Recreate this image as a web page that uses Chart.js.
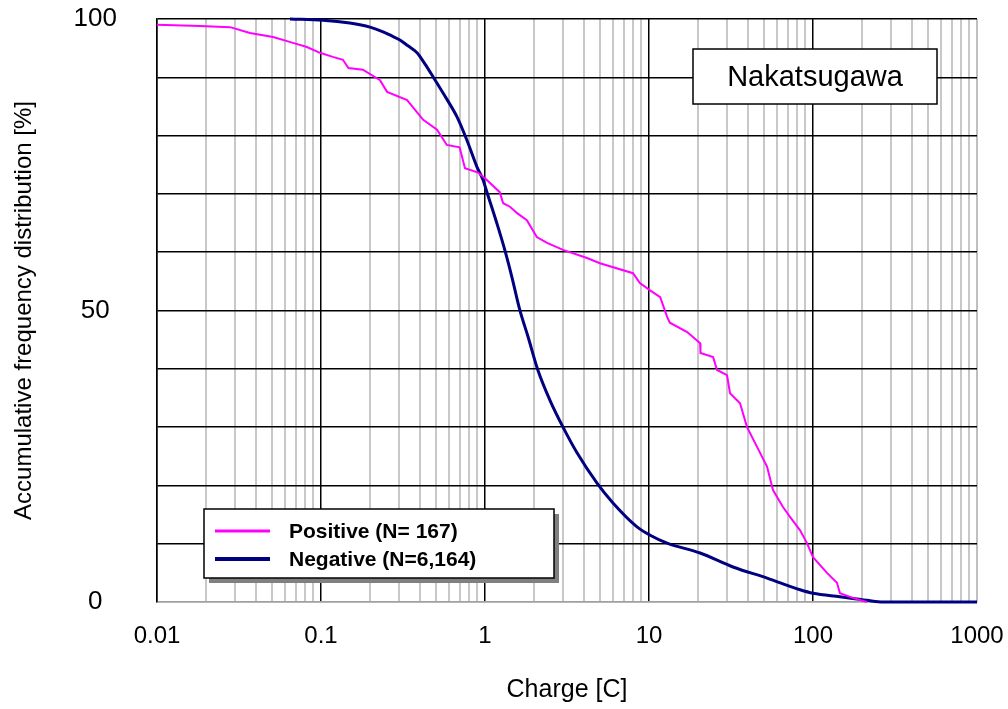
<!DOCTYPE html>
<html>
<head>
<meta charset="utf-8">
<script src="https://cdn.jsdelivr.net/npm/chart.js@4/dist/chart.umd.min.js"></script>
<style>
html,body{margin:0;padding:0;background:#fff;}
#wrap{width:1008px;height:709px;}
</style>
</head>
<body>
<div id="wrap"><canvas id="c" width="1008" height="709"></canvas></div>
<script>
// Positive flashes (charge [C], accumulative %)
const posCharge = [0.01, 0.0183, 0.0279, 0.0369, 0.051, 0.0675, 0.082, 0.0986, 0.118, 0.136, 0.147, 0.18, 0.229, 0.253, 0.335, 0.42, 0.51, 0.585, 0.70, 0.755, 0.9, 1.0, 1.23, 1.29, 1.42, 1.57, 1.80, 2.07, 2.39, 2.99, 4.19, 5.02, 7.99, 8.8, 10.1, 11.7, 12.9, 13.4, 17.1, 20.5, 20.6, 24.6, 26.0, 29.9, 31.2, 35.9, 39.6, 45.6, 52.5, 57.0, 65.6, 72.4, 83.4, 91.9, 100, 121.7, 140, 146, 175, 213];
const posPct    = [99.0, 98.8, 98.6, 97.6, 96.9, 95.9, 95.2, 94.2, 93.5, 93.0, 91.6, 91.3, 89.5, 87.5, 86.1, 82.7, 81.0, 78.4, 78.0, 74.4, 73.7, 72.7, 70.3, 68.4, 67.8, 66.7, 65.5, 62.6, 61.6, 60.4, 59.0, 58.1, 56.4, 54.7, 53.5, 52.3, 48.9, 47.9, 46.3, 44.4, 42.7, 42.0, 39.8, 38.9, 35.8, 34.1, 30.0, 26.6, 23.2, 19.2, 16.3, 14.6, 12.3, 10.1, 7.7, 5.0, 3.3, 1.5, 0.7, 0.0];

// Negative flashes
const negCharge = [0.0647, 0.103, 0.150, 0.199, 0.239, 0.27, 0.303, 0.339, 0.385, 0.43, 0.482, 0.555, 0.675, 0.776, 0.894, 0.973, 1.03, 1.18, 1.32, 1.46, 1.63, 1.83, 2.10, 2.49, 2.99, 3.64, 4.82, 6.03, 8.45, 10.1, 12.9, 20.5, 32.5, 52.5, 83.4, 100, 146, 213, 267, 1000];
const negPct    = [100, 99.8, 99.3, 98.6, 97.8, 97.1, 96.4, 95.4, 94.2, 92.3, 90.1, 87.3, 83.2, 79.2, 74.6, 72.4, 70.2, 65.0, 60.4, 55.7, 50.1, 45.5, 39.8, 34.6, 30.0, 25.6, 20.4, 17.0, 12.9, 11.5, 10.1, 8.4, 6.0, 4.1, 2.1, 1.5, 0.9, 0.3, 0.0, 0.0];

const seriesLabels = ['Positive (N= 167)', 'Negative (N=6,164)'];
const xTickLabels = ['0.01', '0.1', '1', '10', '100', '1000'];
const yTickLabels = ['0', '50', '100'];
const stationName = 'Nakatsugawa';

const FONT = "'Liberation Sans', Arial, Helvetica, sans-serif";

function isDecade(v) {
  const l = Math.log10(v);
  return Math.abs(l - Math.round(l)) < 1e-9;
}

const boxPlugin = {
  id: 'boxes',
  afterDatasetsDraw(chart) {
    const ctx = chart.ctx;
    ctx.save();
    // station annotation box
    const bx = 693, by = 49, bw = 244, bh = 55;
    ctx.fillStyle = '#fff';
    ctx.fillRect(bx, by, bw, bh);
    ctx.strokeStyle = '#000';
    ctx.lineWidth = 1.5;
    ctx.strokeRect(bx, by, bw, bh);
    ctx.fillStyle = '#000';
    ctx.font = '29px ' + FONT;
    ctx.textAlign = 'center';
    ctx.textBaseline = 'middle';
    ctx.fillText(stationName, bx + bw / 2, by + bh / 2 + 1);

    // legend box with shadow
    const lx = 204, ly = 509, lw = 350, lh = 69;
    ctx.fillStyle = '#808080';
    ctx.fillRect(lx + 5, ly + 5, lw, lh);
    ctx.fillStyle = '#fff';
    ctx.fillRect(lx, ly, lw, lh);
    ctx.strokeStyle = '#000';
    ctx.lineWidth = 1.5;
    ctx.strokeRect(lx, ly, lw, lh);
    ctx.font = 'bold 21px ' + FONT;
    ctx.textAlign = 'left';
    chart.data.datasets.forEach((ds, i) => {
      const yy = ly + 22 + i * 28;
      ctx.strokeStyle = ds.borderColor;
      ctx.lineWidth = i === 0 ? 3 : 4;
      ctx.beginPath();
      ctx.moveTo(lx + 11, yy);
      ctx.lineTo(lx + 66, yy);
      ctx.stroke();
      ctx.fillStyle = '#000';
      ctx.fillText(ds.label, lx + 85, yy + 1);
    });
    ctx.restore();
  }
};

new Chart(document.getElementById('c'), {
  type: 'scatter',
  data: {
    datasets: [
      {
        label: seriesLabels[0],
        data: posCharge.map((x, i) => ({x: x, y: posPct[i]})),
        showLine: true,
        borderColor: '#ff00ff',
        backgroundColor: '#ff00ff',
        borderWidth: 2,
        pointRadius: 0,
        tension: 0,
        clip: 4
      },
      {
        label: seriesLabels[1],
        data: negCharge.map((x, i) => ({x: x, y: negPct[i]})),
        showLine: true,
        borderColor: '#000080',
        backgroundColor: '#000080',
        borderWidth: 3,
        pointRadius: 0,
        cubicInterpolationMode: 'monotone',
        clip: 4
      }
    ]
  },
  options: {
    responsive: false,
    animation: false,
    layout: {padding: {left: 0, right: 31, top: 19, bottom: 0}},
    plugins: {
      legend: {display: false},
      tooltip: {enabled: false}
    },
    scales: {
      x: {
        type: 'logarithmic',
        min: 0.01,
        max: 1000,
        afterBuildTicks(scale) {
          const t = [];
          for (let e = -2; e < 3; e++) {
            for (let m = 1; m <= 9; m++) t.push({value: m * Math.pow(10, e)});
          }
          t.push({value: 1000});
          scale.ticks = t;
        },
        afterFit(scale) {
          scale.height = 107;
          scale.paddingLeft = 0;
          scale.paddingRight = 0;
        },
        ticks: {
          autoSkip: false,
          maxRotation: 0,
          padding: 20,
          color: '#000',
          font: {family: FONT, size: 24},
          callback(v) {
            if (!isDecade(v)) return '';
            return xTickLabels[Math.round(Math.log10(v)) + 2];
          }
        },
        grid: {
          drawTicks: false,
          color(c) {
            const v = c.tick && c.tick.value;
            if (v === 1000) return '#c0c0c0';
            return isDecade(v) ? '#000' : '#c8c8c8';
          },
          lineWidth(c) {
            const v = c.tick && c.tick.value;
            return isDecade(v) && v !== 1000 ? 1.5 : 2;
          }
        },
        border: {display: true, color: '#a0a0a0', width: 1.5},
        title: {
          display: true,
          text: 'Charge [C]',
          color: '#000',
          font: {family: FONT, size: 25},
          padding: {top: 0, bottom: 4}
        }
      },
      y: {
        min: 0,
        max: 100,
        afterFit(scale) {
          scale.width = 157;
          scale.paddingTop = 0;
          scale.paddingBottom = 0;
        },
        ticks: {
          stepSize: 10,
          padding: 40,
          crossAlign: 'center',
          color: '#000',
          font: {family: FONT, size: 26},
          callback(v) {
            const s = String(v);
            return yTickLabels.includes(s) ? s : '';
          }
        },
        grid: {
          drawTicks: false,
          color(c) { return c.tick && c.tick.value === 0 ? '#a0a0a0' : '#000'; },
          lineWidth: 1.5
        },
        border: {display: true, color: '#000', width: 1.5},
        title: {
          display: true,
          text: 'Accumulative frequency distribution [%]',
          color: '#000',
          font: {family: FONT, size: 24},
          padding: {top: 10, bottom: 0}
        }
      }
    }
  },
  plugins: [boxPlugin]
});
</script>
</body>
</html>
